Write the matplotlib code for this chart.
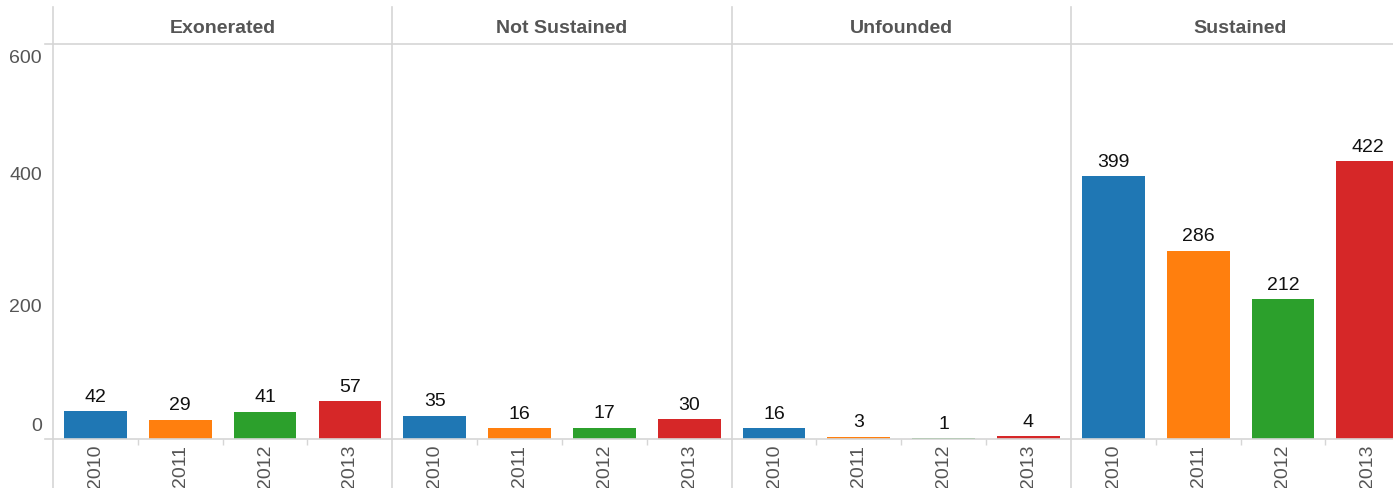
import matplotlib.pyplot as plt
from matplotlib.lines import Line2D

outcomes = ['Exonerated', 'Not Sustained', 'Unfounded', 'Sustained']
years = ['2010', '2011', '2012', '2013']
exonerated = [42, 29, 41, 57]
not_sustained = [35, 16, 17, 30]
unfounded = [16, 3, 1, 4]
sustained = [399, 286, 212, 422]
colors = ['#1f77b4', '#ff7f0e', '#2ca02c', '#d62728']
yticks = [0, 200, 400, 600]

plt.rcParams['font.family'] = ['Liberation Sans', 'DejaVu Sans']

W, H = 1393, 488
fig = plt.figure(figsize=(W / 100, H / 100), dpi=100)
left = 53
pw = 339.3
y0 = 439   # pixel row of zero
y1 = 44    # pixel row of 600
grid = '#d6d6d6'
txt = '#555555'

series = [exonerated, not_sustained, unfounded, sustained]
for k, (name, vals) in enumerate(zip(outcomes, series)):
    ax = fig.add_axes([(left + k * pw) / W, (H - y0) / H, pw / W, (y0 - y1) / H])
    bars = ax.bar(range(len(years)), vals, width=0.74, color=colors)
    ax.bar_label(bars, padding=4, fontsize=14, color='#111111')
    ax.set_xlim(-0.5, 3.5)
    ax.set_ylim(0, 600)
    for s in ax.spines.values():
        s.set_visible(False)
    ax.set_xticks(range(len(years)))
    ax.set_xticklabels(years, rotation=90, fontsize=14, color=txt)
    ax.tick_params(axis='x', which='major', length=0, pad=4)
    ax.set_xticks([0.5, 1.5, 2.5], minor=True)
    ax.tick_params(axis='x', which='minor', length=4, color=grid, width=1)
    ax.set_yticks([])
    ax.axhline(0, color=grid, lw=1.2, clip_on=False)
    ax.axhline(600, color=grid, lw=1.2, clip_on=False)
    ax.annotate(name, xy=(0.5, 1), xycoords='axes fraction', xytext=(0, 11),
                textcoords='offset points', ha='center', va='center',
                fontsize=14, fontweight='bold', color=txt)
    if k == 0:
        for v in yticks:
            va = 'center'
            dy = 0
            if v == 0:
                va, dy = 'bottom', 3
            elif v == 600:
                va, dy = 'top', -4
            ax.annotate(str(v), xy=(0, v), xycoords=('axes fraction', 'data'),
                        xytext=(-8, dy), textcoords='offset points',
                        ha='right', va=va, fontsize=14, color=txt)

# panel separators and axis stubs
for k in range(4):
    x = (left + k * pw) / W
    fig.add_artist(Line2D([x, x], [0, (H - 7) / H], color=grid, lw=1.2))
for yy in (y0, y1):
    fig.add_artist(Line2D([45 / W, left / W], [(H - yy) / H] * 2, color=grid, lw=1.2))

fig.savefig('out.png', dpi=100)
